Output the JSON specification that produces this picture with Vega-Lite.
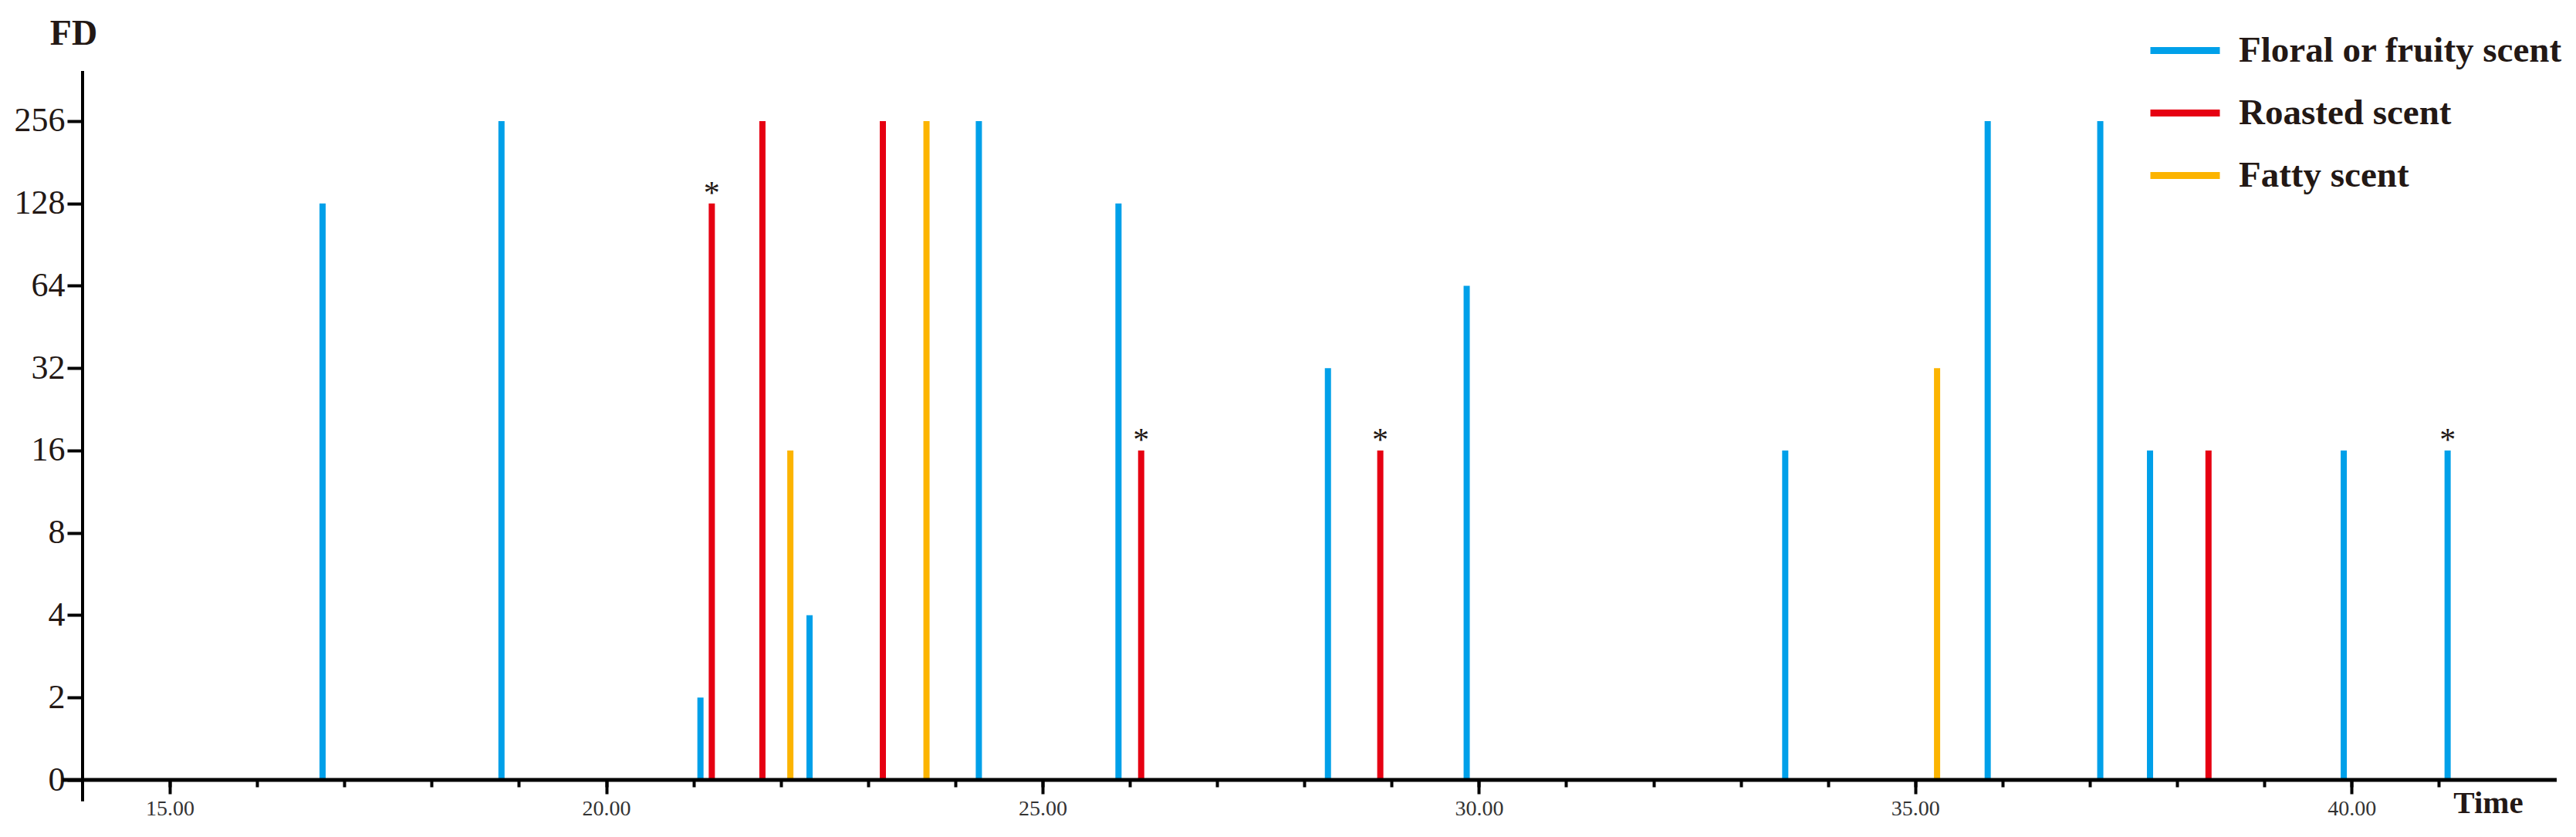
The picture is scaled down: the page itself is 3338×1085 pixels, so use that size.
{
  "$schema": "https://vega.github.io/schema/vega-lite/v6.json",
  "autosize": "none",
  "width": 3206,
  "height": 919,
  "padding": {"left": 107, "top": 92, "right": 25, "bottom": 74},
  "background": "white",
  "config": {
    "view": {"stroke": null},
    "axis": {"grid": false, "labelFont": "Liberation Serif", "titleFont": "Liberation Serif", "labelColor": "#231815", "titleColor": "#231815", "tickColor": "#000", "domainColor": "#000"}
  },
  "datasets": {
    "peaks": [
      {"time": 16.75, "fd": 128, "scent": "Floral or fruity scent", "star": ""},
      {"time": 18.80, "fd": 256, "scent": "Floral or fruity scent", "star": ""},
      {"time": 21.08, "fd": 2, "scent": "Floral or fruity scent", "star": ""},
      {"time": 21.21, "fd": 128, "scent": "Roasted scent", "star": "*"},
      {"time": 21.79, "fd": 256, "scent": "Roasted scent", "star": ""},
      {"time": 22.11, "fd": 16, "scent": "Fatty scent", "star": ""},
      {"time": 22.33, "fd": 4, "scent": "Floral or fruity scent", "star": ""},
      {"time": 23.17, "fd": 256, "scent": "Roasted scent", "star": ""},
      {"time": 23.67, "fd": 256, "scent": "Fatty scent", "star": ""},
      {"time": 24.27, "fd": 256, "scent": "Floral or fruity scent", "star": ""},
      {"time": 25.87, "fd": 128, "scent": "Floral or fruity scent", "star": ""},
      {"time": 26.13, "fd": 16, "scent": "Roasted scent", "star": "*"},
      {"time": 28.27, "fd": 32, "scent": "Floral or fruity scent", "star": ""},
      {"time": 28.87, "fd": 16, "scent": "Roasted scent", "star": "*"},
      {"time": 29.86, "fd": 64, "scent": "Floral or fruity scent", "star": ""},
      {"time": 33.51, "fd": 16, "scent": "Floral or fruity scent", "star": ""},
      {"time": 35.25, "fd": 32, "scent": "Fatty scent", "star": ""},
      {"time": 35.83, "fd": 256, "scent": "Floral or fruity scent", "star": ""},
      {"time": 37.12, "fd": 256, "scent": "Floral or fruity scent", "star": ""},
      {"time": 37.69, "fd": 16, "scent": "Floral or fruity scent", "star": ""},
      {"time": 38.36, "fd": 16, "scent": "Roasted scent", "star": ""},
      {"time": 39.91, "fd": 16, "scent": "Floral or fruity scent", "star": ""},
      {"time": 41.10, "fd": 16, "scent": "Floral or fruity scent", "star": "*"}
    ]
  },
  "resolve": {"axis": {"x": "independent"}},
  "layer": [
    {
      "data": {"name": "peaks"},
      "mark": {"type": "rule", "strokeWidth": 8},
      "encoding": {
        "x": {
          "field": "time", "type": "quantitative",
          "scale": {"domain": [14, 42.35], "nice": false, "zero": false},
          "axis": {
            "orient": "bottom",
            "values": [15, 20, 25, 30, 35, 40], "format": ".2f", "domain": false,
            "tickSize": 18, "tickWidth": 4, "labelFontSize": 28, "labelPadding": 5, "labelColor": "#333333",
            "title": "Time", "titleFontSize": 41, "titleFontWeight": "bold",
            "titleX": 3117, "titleY": 30, "titleAlign": "center", "titleBaseline": "middle"
          }
        },
        "y": {
          "field": "fd", "type": "quantitative",
          "scale": {"type": "log", "base": 2, "domain": [1, 390.4], "nice": false},
          "axis": {
            "values": [1, 2, 4, 8, 16, 32, 64, 128, 256],
            "labelExpr": "datum.value == 1 ? '0' : format(datum.value, 'd')",
            "domain": false, "tickSize": 20, "tickWidth": 4, "labelFontSize": 44, "labelPadding": 3,
            "title": "FD", "titleAngle": 0, "titleFontSize": 46, "titleFontWeight": "bold",
            "titleX": -12, "titleY": -49, "titleAlign": "center", "titleBaseline": "middle"
          }
        },
        "y2": {"datum": 1},
        "color": {
          "field": "scent", "type": "nominal",
          "scale": {"domain": ["Floral or fruity scent", "Roasted scent", "Fatty scent"], "range": ["#00A0E9", "#E60012", "#FCB400"]},
          "legend": {
            "orient": "none", "legendX": 2675, "legendY": -76, "title": null, "padding": 0,
            "symbolType": "stroke", "symbolSize": 8100, "symbolStrokeWidth": 9,
            "labelFont": "Liberation Serif", "labelFontSize": 47, "labelFontWeight": "bold", "labelColor": "#231815",
            "labelOffset": 20, "rowPadding": 8, "labelLimit": 0
          }
        }
      }
    },
    {
      "data": {"name": "peaks"},
      "mark": {"type": "text", "font": "Liberation Serif", "fontSize": 42, "color": "#231815", "baseline": "alphabetic", "align": "center", "dy": 0},
      "encoding": {
        "x": {"field": "time", "type": "quantitative", "axis": null},
        "y": {"field": "fd", "type": "quantitative"},
        "text": {"field": "star"}
      }
    },
    {
      "data": {"values": [{}]},
      "mark": {"type": "rule", "strokeWidth": 5, "color": "#000"},
      "encoding": {
        "x": {"datum": 13.77, "type": "quantitative", "axis": {"orient": "bottom", "values": [15,16,17,18,19,20,21,22,23,24,25,26,27,28,29,30,31,32,33,34,35,36,37,38,39,40,41], "labels": false, "domain": false, "tickSize": 9, "tickWidth": 4, "title": null}},
        "x2": {"datum": 42.35},
        "y": {"datum": 1}
      }
    },
    {
      "data": {"values": [{}]},
      "mark": {"type": "rule", "strokeWidth": 4, "color": "#000"},
      "encoding": {
        "x": {"datum": 14, "type": "quantitative", "axis": null},
        "y": {"datum": 0.835, "type": "quantitative"},
        "y2": {"datum": 390.4}
      }
    }
  ]
}
